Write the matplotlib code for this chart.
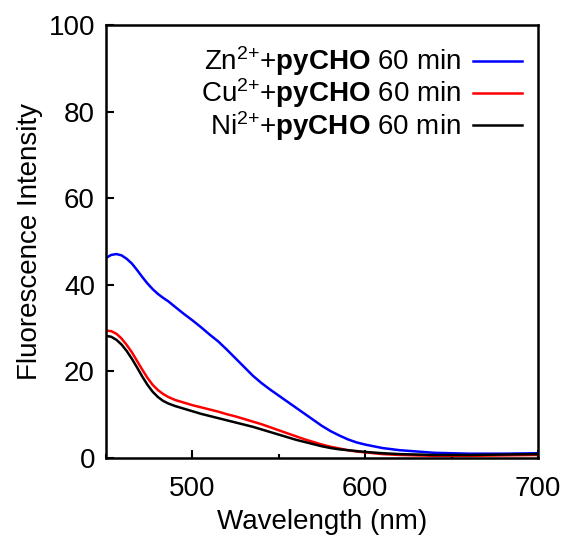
import matplotlib
matplotlib.use("Agg")
import matplotlib.pyplot as plt
from matplotlib.ticker import MultipleLocator

wavelength = [450, 453, 456, 459, 462, 465, 468, 471, 474, 477, 480, 483, 486, 490, 495,
              500, 505, 510, 515, 520, 525, 530, 535, 540, 545, 550, 555, 560, 565, 570,
              575, 580, 585, 590, 595, 600, 610, 620, 640, 660, 680, 700]
zn = [46.2, 46.9, 47.1, 46.8, 46.0, 44.9, 43.4, 41.8, 40.3, 39.0, 37.9, 37.0, 36.2, 34.9, 33.3,
      31.8, 30.2, 28.5, 26.9, 25.0, 23.0, 21.0, 19.0, 17.3, 15.8, 14.4, 13.0, 11.6, 10.2, 8.8,
      7.4, 6.2, 5.2, 4.3, 3.6, 3.1, 2.3, 1.8, 1.2, 1.0, 1.0, 1.1]
cu = [29.4, 29.3, 28.7, 27.6, 26.1, 24.4, 22.4, 20.4, 18.5, 16.9, 15.7, 14.8, 14.1, 13.4, 12.8,
      12.2, 11.7, 11.2, 10.7, 10.1, 9.6, 9.0, 8.4, 7.8, 7.1, 6.4, 5.7, 5.0, 4.3, 3.7,
      3.1, 2.6, 2.2, 1.8, 1.5, 1.3, 0.9, 0.7, 0.5, 0.5, 0.6, 0.7]
ni = [28.2, 28.0, 27.3, 26.2, 24.7, 22.9, 20.9, 18.8, 16.9, 15.3, 14.1, 13.2, 12.6, 12.0, 11.4,
      10.8, 10.2, 9.7, 9.2, 8.7, 8.2, 7.7, 7.2, 6.6, 6.0, 5.4, 4.8, 4.2, 3.7, 3.2,
      2.7, 2.3, 2.0, 1.8, 1.6, 1.4, 1.1, 0.9, 0.7, 0.7, 0.8, 0.9]
labels = ['Zn$^{\\text{2+}}$+$\\mathbf{pyCHO}$ 60 min',
          'Cu$^{\\text{2+}}$+$\\mathbf{pyCHO}$ 60 min',
          'Ni$^{\\text{2+}}$+$\\mathbf{pyCHO}$ 60 min']
colors = ['#0000ff', '#ff0000', '#000000']

plt.rcParams['font.family'] = ['Liberation Sans', 'DejaVu Sans']
plt.rcParams['mathtext.fontset'] = 'custom'
plt.rcParams['mathtext.rm'] = 'Liberation Sans'
plt.rcParams['mathtext.bf'] = 'Liberation Sans:bold'
plt.rcParams['mathtext.it'] = 'Liberation Sans:italic'

fig = plt.figure(figsize=(5.71, 5.36), dpi=100)
ax = fig.add_axes([106/571, 1-458/536, 432/571, 433/536])

for y, c, lab in zip([zn, cu, ni], colors, labels):
    ax.plot(wavelength, y, color=c, lw=1.8, label=lab)

ax.set_xlim(450, 700)
ax.set_ylim(0, 100)
ax.xaxis.set_major_locator(MultipleLocator(100))
ax.xaxis.set_minor_locator(MultipleLocator(50))
ax.yaxis.set_major_locator(MultipleLocator(20))
ax.tick_params(axis='both', which='major', direction='in', length=6, width=1.5,
               labelsize=20, top=False, right=False)
ax.tick_params(axis='both', which='minor', direction='in', length=3, width=1.5,
               top=False, right=False)
ax.tick_params(axis='x', which='major', pad=13)
ax.tick_params(axis='y', which='major', pad=8)
for s in ax.spines.values():
    s.set_linewidth(1.8)

ax.set_xlabel('Wavelength (nm)', fontsize=20, labelpad=5)
ax.set_ylabel('Fluorescence Intensity', fontsize=20, labelpad=4)

leg = ax.legend(loc='upper right', bbox_to_anchor=(0.963, 0.955), frameon=False,
                markerfirst=False, fontsize=20, handlelength=1.76, handletextpad=0.45,
                labelspacing=-0.06, borderpad=0, borderaxespad=0)

fig.savefig('out.png', dpi=100)
